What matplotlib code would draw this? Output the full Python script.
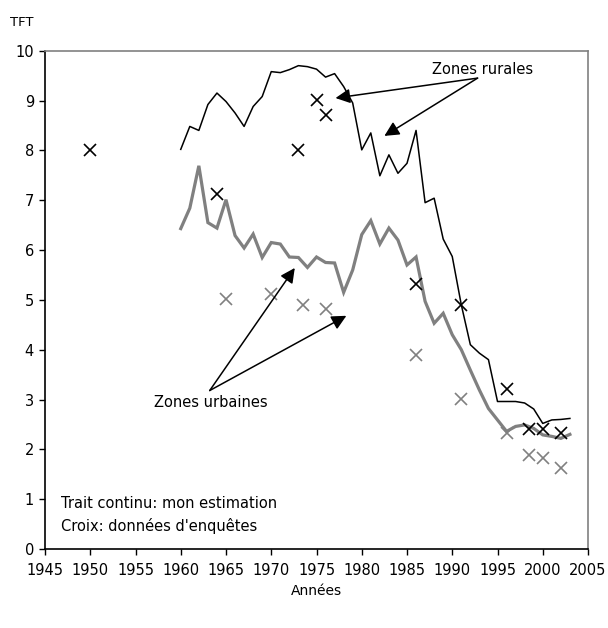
""" TFT rural / urbain """

import matplotlib
matplotlib.use("Agg")
import matplotlib.pyplot as plt

plt.rcParams['font.family'] = ['DejaVu Sans']

# Estimation (trait continu)
years = list(range(1960, 2004))
rural = [8.02, 8.48, 8.40, 8.92, 9.15, 8.98, 8.75, 8.48, 8.88, 9.08,
         9.58, 9.56, 9.62, 9.70, 9.68, 9.63, 9.47, 9.54, 9.28, 8.95,
         8.01, 8.35, 7.49, 7.91, 7.54, 7.74, 8.40, 6.95, 7.04, 6.22,
         5.87, 4.90, 4.10, 3.93, 3.80, 2.96, 2.96, 2.96, 2.93, 2.81,
         2.52, 2.59, 2.60, 2.62]
urban = [6.43, 6.84, 7.69, 6.55, 6.44, 7.01, 6.29, 6.04, 6.32, 5.85,
         6.15, 6.12, 5.86, 5.85, 5.65, 5.86, 5.75, 5.74, 5.15, 5.60,
         6.31, 6.59, 6.12, 6.44, 6.20, 5.70, 5.86, 4.97, 4.53, 4.73,
         4.30, 4.00, 3.59, 3.19, 2.82, 2.59, 2.36, 2.46, 2.49, 2.42,
         2.29, 2.26, 2.22, 2.30]

# Donnees d'enquetes (croix)
rural_svy_years = [1950, 1964, 1973, 1975, 1976, 1986, 1991, 1996, 1998.5, 2000, 2002]
rural_svy = [8.0, 7.12, 8.0, 9.01, 8.71, 5.32, 4.90, 3.21, 2.40, 2.40, 2.32]
urban_svy_years = [1965, 1970, 1973.5, 1976, 1986, 1991, 1996, 1998.5, 2000, 2002]
urban_svy = [5.01, 5.12, 4.90, 4.81, 3.90, 3.01, 2.32, 1.89, 1.82, 1.63]

GRAY = '#808080'
FS = 10.5

W, H = 608, 628
fig = plt.figure(figsize=(W / 100, H / 100), dpi=100)
ax = fig.add_axes([45 / W, 1 - 549 / H, (588 - 45) / W, (549 - 50.7) / H])

ax.plot(years, urban, color=GRAY, lw=2.3, solid_joinstyle='miter')
ax.plot(years, rural, color='black', lw=1.1)
ax.plot(rural_svy_years, rural_svy, ls='none', marker='x', ms=8, mew=1.2, color='black')
ax.plot(urban_svy_years, urban_svy, ls='none', marker='x', ms=8, mew=1.2, color=GRAY)

ax.set_xlim(1945, 2005)
ax.set_ylim(0, 10)
ax.set_xticks(range(1945, 2006, 5))
ax.set_yticks(range(0, 11))
ax.tick_params(labelsize=FS, direction='out', length=4, width=1)
ax.tick_params(axis='x', pad=6)
ax.tick_params(axis='y', pad=4)
for s in ['top', 'right']:
    ax.spines[s].set_color(GRAY)
    ax.spines[s].set_linewidth(1.2)
for s in ['left', 'bottom']:
    ax.spines[s].set_linewidth(1.2)

# Annotations
arrow = dict(arrowstyle='-|>', color='black', lw=1.1, mutation_scale=22, shrinkA=0, shrinkB=0)
ax.text(1993.3, 9.63, 'Zones rurales', ha='center', va='center', fontsize=FS)
for tip in [(1977.1, 9.05), (1982.5, 8.29)]:
    ax.annotate('', xy=tip, xytext=(1992.8, 9.45), arrowprops=arrow)

ax.text(1963.3, 2.94, 'Zones urbaines', ha='center', va='center', fontsize=FS)
for tip in [(1972.6, 5.64), (1978.3, 4.68)]:
    ax.annotate('', xy=tip, xytext=(1963.2, 3.18), arrowprops=arrow)

ax.text(1946.8, 0.92, 'Trait continu: mon estimation', fontsize=FS, va='center')
ax.text(1946.8, 0.47, "Croix: données d'enquêtes", fontsize=FS, va='center')

fig.text(22 / W, 1 - 22 / H, 'TFT', ha='center', va='center', fontsize=9.5)
fig.text(316 / W, 1 - 591 / H, 'Années', ha='center', va='center', fontsize=10)

fig.savefig('out.png', dpi=100)
